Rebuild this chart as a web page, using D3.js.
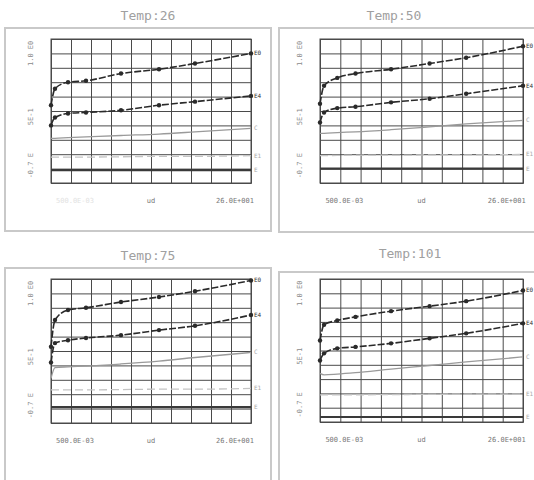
<!DOCTYPE html>
<html>
  <head>
    <meta charset="utf-8" />
    <title>Temp sweep</title>
    <style>
      body { margin: 0; background: #fff; }
      .grid line, .grid path { stroke: #4a4a4a; stroke-width: 1; }
      text { font-family: "DejaVu Sans Mono", monospace; }
    </style>
    <script src="https://d3js.org/d3.v7.min.js"></script>
  </head>
  <body>
    <div id="chart"></div>
    <script type="text/javascript">
      // sweep points (grid units along x, 0..10)
      var xs = [0, 0.2, 0.85, 1.75, 3.5, 5.4, 7.2, 10];

      var titles = ["Temp:26", "Temp:50", "Temp:75", "Temp:101"];
      var seriesNames = ["E0", "E4", "C", "E1", "E"];
      var yTickLabels = ["1.0 E0", "5E-1", "-0.7 E"];
      var xTickLabels = ["500.0E-03", "ud", "26.0E+001"];

      // values per temperature (grid units, 0..10)
      var t26A = [5.4, 6.55, 7.0, 7.1, 7.6, 7.9, 8.3, 9.0];
      var t26B = [4.0, 4.55, 4.83, 4.9, 5.05, 5.4, 5.65, 6.05];
      var t26C = [3.1, 3.1, 3.15, 3.2, 3.3, 3.4, 3.55, 3.8];
      var t26D = [1.8, 1.8, 1.8, 1.8, 1.82, 1.85, 1.85, 1.9];
      var t26E = [0.9, 0.9, 0.9, 0.9, 0.9, 0.9, 0.9, 0.9];

      var t50A = [5.5, 6.75, 7.3, 7.6, 7.9, 8.3, 8.7, 9.5];
      var t50B = [4.2, 4.9, 5.2, 5.3, 5.6, 5.85, 6.2, 6.75];
      var t50C = [3.45, 3.45, 3.5, 3.55, 3.7, 3.9, 4.1, 4.35];
      var t50D = [1.9, 1.9, 1.92, 1.93, 1.93, 1.95, 1.95, 1.98];
      var t50E = [1.0, 1.0, 1.0, 1.0, 1.0, 1.0, 1.0, 1.0];

      var t75A = [5.3, 7.15, 7.85, 8.0, 8.4, 8.75, 9.15, 9.9];
      var t75B = [4.2, 5.55, 5.75, 5.9, 6.1, 6.45, 6.75, 7.5];
      var t75C = [3.1, 3.85, 3.9, 3.95, 4.1, 4.3, 4.55, 4.9];
      var t75D = [2.3, 2.3, 2.3, 2.3, 2.32, 2.35, 2.35, 2.4];
      var t75E = [1.1, 1.1, 1.1, 1.1, 1.1, 1.1, 1.1, 1.1];

      var t101A = [5.7, 6.8, 7.1, 7.35, 7.75, 8.1, 8.45, 9.2];
      var t101B = [4.3, 4.8, 5.15, 5.25, 5.5, 5.85, 6.2, 6.9];
      var t101C = [3.4, 3.3, 3.35, 3.45, 3.7, 3.95, 4.2, 4.55];
      var t101D = [1.9, 1.9, 1.9, 1.9, 1.92, 1.93, 1.95, 1.95];
      var t101E = [0.35, 0.35, 0.35, 0.35, 0.35, 0.35, 0.35, 0.35];

      var panelData = [
        [t26A, t26B, t26C, t26D, t26E],
        [t50A, t50B, t50C, t50D, t50E],
        [t75A, t75B, t75C, t75D, t75E],
        [t101A, t101B, t101C, t101D, t101E]
      ];

      var w = 534, h = 480;

      // layout of each panel: frame box, plot box, title centre
      var layout = [
        { fx: 5, fy: 28, fw: 266, fh: 203, px: 51, py: 39, pw: 200, ph: 144, tx: 148, ty: 20 },
        { fx: 279, fy: 28, fw: 260, fh: 204, px: 320, py: 39, pw: 203, ph: 144, tx: 394, ty: 20 },
        { fx: 5, fy: 268, fw: 266, fh: 220, px: 51, py: 279, pw: 200, ph: 144, tx: 148, ty: 260 },
        { fx: 279, fy: 272, fw: 260, fh: 220, px: 320, py: 279, pw: 203, ph: 143, tx: 410, ty: 258 }
      ];

      var styles = [
        { stroke: "#2a2a2a", width: 1.6, dash: "7,2", marker: true },
        { stroke: "#2a2a2a", width: 1.6, dash: "7,2", marker: true },
        { stroke: "#9a9a9a", width: 1.3, dash: null, marker: false },
        { stroke: "#c4c4c4", width: 1.3, dash: "8,4", marker: false },
        { stroke: "#3a3a3a", width: 2.2, dash: null, marker: false }
      ];

      var svg = d3.select("#chart").append("svg").attr("width", w).attr("height", h);

      layout.forEach(function (L, pi) {
        var g = svg.append("g");

        g.append("rect")
          .attr("x", L.fx).attr("y", L.fy)
          .attr("width", L.fw).attr("height", L.fh)
          .attr("fill", "none").attr("stroke", "#c9c9c9").attr("stroke-width", 2);

        g.append("text")
          .attr("x", L.tx).attr("y", L.ty)
          .attr("text-anchor", "middle")
          .attr("font-size", 13)
          .attr("fill", "#a0a0a0")
          .text(titles[pi]);

        var x = d3.scaleLinear().domain([0, 10]).range([L.px, L.px + L.pw]);
        var y = d3.scaleLinear().domain([0, 10]).range([L.py + L.ph, L.py]);

        // grid
        g.append("g").attr("class", "grid")
          .attr("transform", "translate(0," + (L.py + L.ph) + ")")
          .call(d3.axisBottom(x).ticks(10).tickSize(-L.ph).tickFormat(""));
        g.append("g").attr("class", "grid")
          .attr("transform", "translate(" + L.px + ",0)")
          .call(d3.axisLeft(y).ticks(10).tickSize(-L.pw).tickFormat(""));
        g.append("rect")
          .attr("x", L.px).attr("y", L.py)
          .attr("width", L.pw).attr("height", L.ph)
          .attr("fill", "none").attr("stroke", "#4a4a4a");

        // rotated y labels
        var yLabelPos = [9.0, 4.6, 1.2];
        yTickLabels.forEach(function (t, i) {
          g.append("text")
            .attr("transform", "translate(" + (L.px - 18) + "," + y(yLabelPos[i]) + ") rotate(-90)")
            .attr("text-anchor", "middle")
            .attr("font-size", 7)
            .attr("fill", "#8a8a8a")
            .text(t);
        });

        // x labels
        var xLabelPos = [1.2, 5, 9.2];
        xTickLabels.forEach(function (t, i) {
          g.append("text")
            .attr("x", x(xLabelPos[i]))
            .attr("y", L.py + L.ph + 20)
            .attr("text-anchor", "middle")
            .attr("font-size", 7)
            .attr("fill", pi === 0 && i === 0 ? "#e2e2e2" : "#777")
            .text(t);
        });

        var line = d3.line()
          .x(function (d) { return x(d[0]); })
          .y(function (d) { return y(d[1]); })
          .curve(d3.curveMonotoneX);

        panelData[pi].forEach(function (vals, si) {
          var st = styles[si];
          var pts = xs.map(function (xv, k) { return [xv, vals[k]]; });
          g.append("path")
            .datum(pts)
            .attr("d", line)
            .attr("fill", "none")
            .attr("stroke", st.stroke)
            .attr("stroke-width", st.width)
            .attr("stroke-dasharray", st.dash);

          if (st.marker) {
            g.selectAll(null)
              .data(pts.slice(1))
              .enter()
              .append("circle")
              .attr("cx", function (d) { return x(d[0]); })
              .attr("cy", function (d) { return y(d[1]); })
              .attr("r", 2.2)
              .attr("fill", st.stroke);
            g.append("circle")
              .attr("cx", x(pts[0][0])).attr("cy", y(pts[0][1]))
              .attr("r", 2.2).attr("fill", st.stroke);
          }

          g.append("text")
            .attr("x", x(10) + 3)
            .attr("y", y(vals[vals.length - 1]) + 2)
            .attr("font-size", 6)
            .attr("fill", si < 2 ? "#333" : "#aaa")
            .text(seriesNames[si]);
        });
      });
    </script>
  </body>
</html>
